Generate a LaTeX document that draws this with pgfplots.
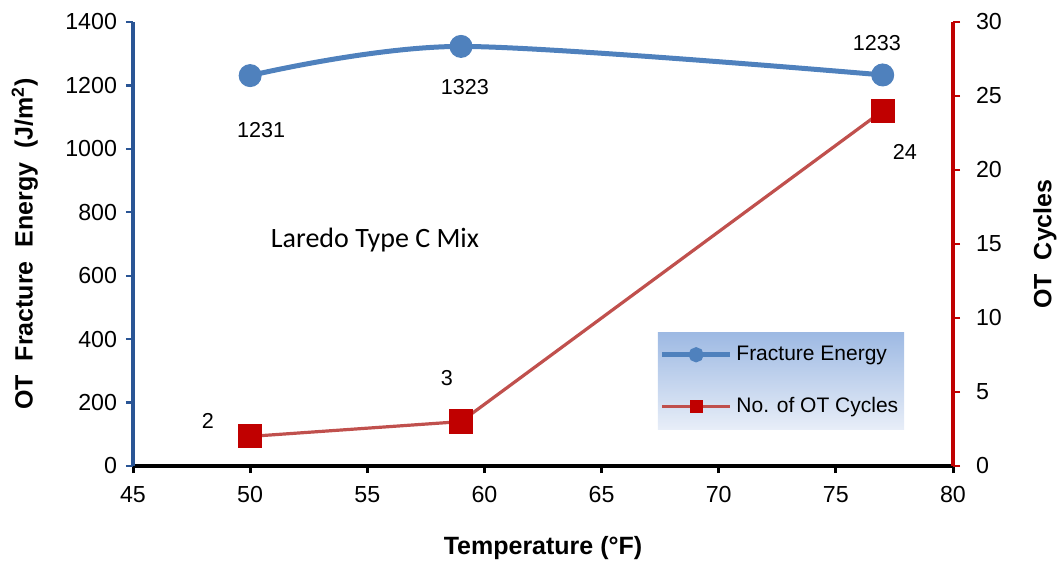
\documentclass[border=0pt]{standalone}
\usepackage{pgfplots}
\pgfplotsset{compat=1.18}
\usepackage{fontspec}
\setmainfont{Liberation Sans}
\newfontfamily\calibri{Carlito}
\definecolor{blueS}{HTML}{4F81BD}
\definecolor{axisBlue}{HTML}{2A5595}
\definecolor{redS}{HTML}{C0504D}
\definecolor{darkRed}{HTML}{C00000}
\definecolor{legTop}{HTML}{9DB9E3}
\definecolor{legBot}{HTML}{E8EEF8}
\begin{document}
\begin{tikzpicture}
\useasboundingbox (0,0) rectangle (530.5bp,281bp);
\begin{axis}[
  at={(66.5bp,48bp)}, anchor=south west,
  scale only axis, width=410bp, height=222bp,
  xmin=45, xmax=80, ymin=0, ymax=1400,
  xtick={45,50,...,80}, ytick={0,200,...,1400},
  axis x line*=bottom, axis y line*=left,
  x axis line style={black, line width=1.7bp, -},
  y axis line style={axisBlue, line width=1.6bp, -},
  tick align=outside, major tick length=3.5bp,
  xtick style={black, line width=1.5bp},
  ytick style={axisBlue, line width=1.2bp},
  ticklabel style={font=\fontsize{11.6bp}{13bp}\selectfont},
  xticklabel style={yshift=-3bp},
  yticklabel style={xshift=-1bp},
  /pgf/number format/assume math mode=true,
  /pgf/number format/1000 sep={},
  xlabel={Temperature (°F)},
  ylabel={OT\ \ Fracture\ \ Energy\ \ (J/m\textsuperscript{2})},
  label style={font=\bfseries\fontsize{12.5bp}{14bp}\selectfont},
  xlabel style={at={(axis description cs:0.5,-0.185)}, anchor=center},
  ylabel style={at={(axis description cs:-0.132,0.5)}, anchor=center},
  clip=false,
]
\addplot[blueS, line width=2.5bp, smooth, mark=*, mark size=5.5bp,
  mark options={fill=blueS, draw=blueS, line width=0.5bp}]
  coordinates {(50,1231) (59,1323) (77,1233)};
\begin{scope}[font=\fontsize{10.8bp}{12bp}\selectfont]
\node at (axis cs:50.47,1059) {1231};
\node at (axis cs:59.17,1195) {1323};
\node at (axis cs:76.75,1334) {1233};
\node at (axis cs:48.2,142) {2};
\node at (axis cs:58.4,277) {3};
\node at (axis cs:77.95,990) {24};
\end{scope}
\node[font=\calibri\fontsize{14bp}{16bp}\selectfont] at (axis cs:55.33,713) {Laredo Type C Mix};
\end{axis}
\begin{axis}[
  at={(66.5bp,48bp)}, anchor=south west,
  scale only axis, width=410bp, height=222bp,
  xmin=45, xmax=80, ymin=0, ymax=30,
  ytick={0,5,...,30},
  axis x line=none, axis y line*=right,
  y axis line style={darkRed, line width=1.8bp, -},
  ytick style={darkRed, line width=1.4bp},
  tick align=outside, major tick length=3.5bp,
  ticklabel style={font=\fontsize{11.6bp}{13bp}\selectfont},
  yticklabel style={xshift=4.5bp},
  /pgf/number format/assume math mode=true,
  ylabel={OT\ \ Cycles},
  label style={font=\bfseries\fontsize{12.5bp}{14bp}\selectfont},
  ylabel style={at={(axis description cs:1.112,0.5)}, anchor=center, rotate=0},
  legend image code/.code={\draw[mark repeat=2, mark phase=2, #1] plot coordinates {(0bp,0bp) (17bp,0bp) (34bp,0bp)};},
  legend style={at={(0.941,0.081)}, anchor=south east, draw=none,
    top color=legTop, bottom color=legBot,
    font=\fontsize{10.5bp}{12bp}\selectfont,
    row sep=13bp, inner xsep=1bp, inner ysep=5bp,
    cells={anchor=west}},
  clip=false,
]
\addlegendimage{blueS, line width=2.3bp, mark=*, mark size=2.6bp, mark options={fill=blueS, draw=blueS}}
\addlegendentry{Fracture Energy}
\addlegendimage{redS, line width=1.3bp, mark=square*, mark size=2.6bp, mark options={fill=darkRed, draw=darkRed}}
\addlegendentry{No. of OT Cycles}
\addplot[forget plot, redS, line width=1.6bp, mark=square*, mark size=5.8bp,
  mark options={fill=darkRed, draw=darkRed, line width=0.5bp}]
  coordinates {(50,2) (59,3) (77,24)};
\end{axis}
\end{tikzpicture}
\end{document}
